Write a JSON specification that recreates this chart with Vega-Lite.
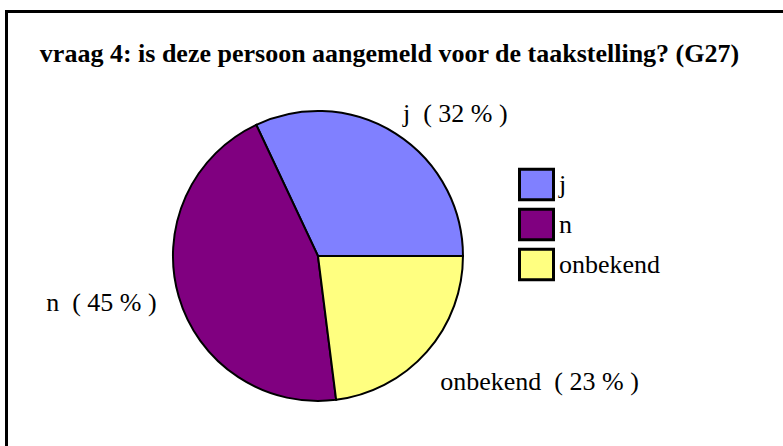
{
  "$schema": "https://vega.github.io/schema/vega-lite/v6.json",
  "width": 777,
  "height": 435,
  "autosize": {"type": "none"},
  "padding": {"left": 6, "top": 11, "right": 0, "bottom": 0},
  "background": "white",
  "title": {
    "text": "vraag 4: is deze persoon aangemeld voor de taakstelling? (G27)",
    "font": "Liberation Serif",
    "fontSize": 26,
    "fontWeight": "bold",
    "color": "black",
    "anchor": "middle",
    "frame": "group",
    "orient": "top",
    "offset": -56,
    "dx": -5
  },
  "config": {
    "view": {"stroke": null},
    "font": "Liberation Serif",
    "axis": {"domainCap": "square"}
  },
  "data": {
    "values": [
      {"cat": "j", "pct": 32, "label": "j\u00a0 ( 32 % )"},
      {"cat": "n", "pct": 45, "label": "n\u00a0 ( 45 % )"},
      {"cat": "onbekend", "pct": 23, "label": "onbekend\u00a0 ( 23 % )"}
    ]
  },
  "encoding": {
    "theta": {"field": "pct", "type": "quantitative", "stack": true, "scale": {"range": [1.5707963, 7.8539816]}},
    "order": {"field": "cat", "sort": "descending"},
    "x": {"datum": 0.4015, "type": "quantitative", "scale": {"domain": [0, 1], "nice": false, "zero": false},
      "axis": {"orient": "top", "domain": true, "domainColor": "black", "domainWidth": 3, "ticks": false, "labels": false, "grid": false, "title": null}},
    "y": {"datum": 0.4368, "type": "quantitative", "scale": {"domain": [0, 1], "nice": false, "zero": false},
      "axis": {"orient": "left", "domain": true, "domainColor": "black", "domainWidth": 3, "ticks": false, "labels": false, "grid": false, "title": null}}
  },
  "layer": [
    {
      "mark": {"type": "arc", "outerRadius": 145, "stroke": "black", "strokeWidth": 2},
      "encoding": {
        "color": {
          "field": "cat", "type": "nominal",
          "scale": {"domain": ["j", "n", "onbekend"], "range": ["#8080FF", "#800080", "#FFFF80"]},
          "legend": {
            "orient": "none", "legendX": 512, "legendY": 155, "title": null, "padding": 0,
            "symbolType": "M-1,-0.9H1V0.9H-1Z", "symbolSize": 1156,
            "symbolStrokeColor": "black", "symbolStrokeWidth": 3, "symbolOpacity": 1,
            "labelFont": "Liberation Serif", "labelFontSize": 26, "labelColor": "black",
            "labelOffset": 4, "rowPadding": -3
          }
        }
      }
    },
    {
      "mark": {"type": "text", "radius": 166, "align": "left", "baseline": "middle", "dx": -4, "dy": -2, "fontSize": 26, "font": "Liberation Serif", "color": "black"},
      "encoding": {"text": {"condition": {"test": "datum.cat === 'j'", "field": "label"}, "value": ""}}
    },
    {
      "mark": {"type": "text", "radius": 168, "align": "right", "baseline": "middle", "fontSize": 26, "font": "Liberation Serif", "color": "black"},
      "encoding": {"text": {"condition": {"test": "datum.cat === 'n'", "field": "label"}, "value": ""}}
    },
    {
      "mark": {"type": "text", "radius": 175, "align": "left", "baseline": "middle", "dx": -9, "dy": 10, "fontSize": 26, "font": "Liberation Serif", "color": "black"},
      "encoding": {"text": {"condition": {"test": "datum.cat === 'onbekend'", "field": "label"}, "value": ""}}
    }
  ]
}
